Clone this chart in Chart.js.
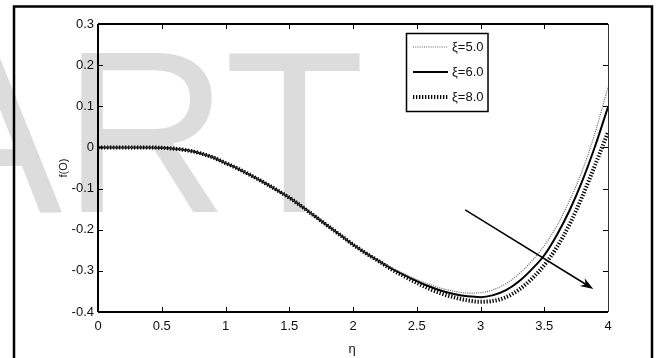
<!DOCTYPE html>
<html>
<head>
<meta charset="utf-8">
<script src="https://cdn.jsdelivr.net/npm/chart.js@4.4.1/dist/chart.umd.min.js"></script>
<style>
html,body{margin:0;padding:0;background:#fff;}
#wrap{position:relative;width:660px;height:358px;}
</style>
</head>
<body>
<div id="wrap"><canvas id="fChart" width="660" height="358"></canvas></div>
<script>
// eta grid and f(eta) profiles for three values of xi
const eta=[0,0.1,0.2,0.3,0.4,0.5,0.6,0.7,0.8,0.9,1.0,1.1,1.2,1.3,1.4,1.5,1.6,1.7,1.8,1.9,2.0,
2.1,2.2,2.3,2.4,2.5,2.6,2.7,2.8,2.9,3.0,3.1,3.2,3.3,3.4,3.5,3.6,3.7,3.8,3.9,4.0]
const xi5=[0,0,0,0,0,-0.001,-0.003,-0.007,-0.014,-0.024,-0.038,-0.052,-0.068,-0.085,-0.103,-0.122,-0.144,-0.167,-0.190,-0.213,-0.236,
-0.257,-0.276,-0.292,-0.307,-0.321,-0.333,-0.343,-0.350,-0.354,-0.353,-0.346,-0.331,-0.308,-0.277,-0.239,-0.190,-0.128,-0.055,0.037,0.147]
const xi6=[0,0,0,0,0,-0.001,-0.003,-0.007,-0.014,-0.024,-0.038,-0.052,-0.068,-0.085,-0.103,-0.122,-0.144,-0.167,-0.190,-0.213,-0.236,
-0.257,-0.276,-0.294,-0.310,-0.325,-0.338,-0.349,-0.357,-0.362,-0.364,-0.359,-0.347,-0.326,-0.297,-0.262,-0.212,-0.152,-0.080,0.004,0.098]
const xi8=[0,0,0,0,0,-0.001,-0.003,-0.007,-0.014,-0.024,-0.038,-0.052,-0.068,-0.085,-0.103,-0.122,-0.144,-0.167,-0.190,-0.213,-0.236,
-0.257,-0.276,-0.296,-0.313,-0.329,-0.344,-0.356,-0.365,-0.372,-0.375,-0.373,-0.364,-0.346,-0.320,-0.286,-0.242,-0.186,-0.118,-0.042,0.037]
const seriesLabels=["ξ=5.0","ξ=6.0","ξ=8.0"]
const xTicks=[0,0.5,1,1.5,2,2.5,3,3.5,4]
const yTicks=[-0.4,-0.3,-0.2,-0.1,0,0.1,0.2,0.3]
// trend arrow, in data units
const arrowFrom=[2.88,-0.152]
const arrowTo=[3.885,-0.344]

const FONT="'Liberation Sans Narrow','Liberation Sans',Arial,sans-serif"
const pts=arr=>eta.map((e,i)=>({x:e,y:arr[i]}))

// gray "ART" stamp behind the plot
const stamp={
id:"stamp",
beforeDraw(chart){
const c=chart.ctx
c.save()
c.fillStyle="#fff"
c.fillRect(0,0,chart.width,chart.height)
c.fillStyle="#dcdcdc"
c.font="230px 'Liberation Sans',Arial,sans-serif"
c.textBaseline="alphabetic"
c.fillText("ART",-91,212)
c.restore()
}
}

// box frame, inward ticks, legend, arrow, axis titles, outer border
const frame={
id:"frame",
afterDraw(chart){
const c=chart.ctx
const a=chart.chartArea
const xs=chart.scales.x, ys=chart.scales.y
c.save()
c.strokeStyle="#000"
c.lineWidth=1
c.beginPath()
xTicks.forEach(v=>{
const p=Math.round(xs.getPixelForValue(v))+0.5
c.moveTo(p,a.bottom);c.lineTo(p,a.bottom-5)
c.moveTo(p,a.top);c.lineTo(p,a.top+5)
})
yTicks.forEach(v=>{
const p=Math.round(ys.getPixelForValue(v))+0.5
c.moveTo(a.left,p);c.lineTo(a.left+5,p)
c.moveTo(a.right,p);c.lineTo(a.right-5,p)
})
c.stroke()
c.lineWidth=2
c.beginPath()
c.moveTo(a.left,a.top);c.lineTo(a.right,a.top)
c.moveTo(a.left,a.top);c.lineTo(a.left,a.bottom)
c.moveTo(a.left,a.bottom);c.lineTo(a.right,a.bottom)
c.stroke()
c.lineWidth=1
c.strokeStyle="#333"
c.beginPath()
c.moveTo(a.right+0.5,a.top);c.lineTo(a.right+0.5,a.bottom)
c.stroke()

// legend
const lx=406.5,ly=33.5,lw=81.5,lh=78
c.fillStyle="#fff"
c.fillRect(lx,ly,lw,lh)
c.strokeStyle="#000"
c.lineWidth=1.5
c.strokeRect(lx,ly,lw,lh)
chart.data.datasets.forEach((d,i)=>{
const yy=47+i*25
c.save()
c.strokeStyle=d.borderColor
c.lineWidth=d.borderWidth
c.setLineDash(d.borderDash||[])
c.beginPath();c.moveTo(413,yy);c.lineTo(448,yy);c.stroke()
c.restore()
c.fillStyle="#111"
c.font="13px "+FONT
c.textBaseline="middle"
c.textAlign="left"
c.fillText(d.label,452,yy)
})

// arrow
const x1=xs.getPixelForValue(arrowFrom[0]),y1=ys.getPixelForValue(arrowFrom[1])
const x2=xs.getPixelForValue(arrowTo[0]),y2=ys.getPixelForValue(arrowTo[1])
const ang=Math.atan2(y2-y1,x2-x1)
c.strokeStyle="#000"
c.lineWidth=1.5
c.beginPath();c.moveTo(x1,y1);c.lineTo(x2-8*Math.cos(ang),y2-8*Math.sin(ang));c.stroke()
c.fillStyle="#000"
c.beginPath()
c.moveTo(x2,y2)
c.lineTo(x2-13*Math.cos(ang)+4.5*Math.sin(ang),y2-13*Math.sin(ang)-4.5*Math.cos(ang))
c.lineTo(x2-9*Math.cos(ang),y2-9*Math.sin(ang))
c.lineTo(x2-13*Math.cos(ang)-4.5*Math.sin(ang),y2-13*Math.sin(ang)+4.5*Math.cos(ang))
c.closePath();c.fill()

// axis titles
c.fillStyle="#111"
c.font="13px "+FONT
c.textAlign="center"
c.textBaseline="middle"
c.fillText("η",352,349)
c.save()
c.translate(64,168)
c.rotate(-Math.PI/2)
c.font="11px "+FONT
c.fillText("f(O)",0,0)
c.restore()

// outer border, bottom edge runs off the canvas
c.strokeStyle="#000"
c.lineWidth=2.5
c.strokeRect(14,6.5,638,360)
c.restore()
}
}

new Chart(document.getElementById("fChart"),{
type:"line",
data:{
datasets:[
{label:seriesLabels[0],data:pts(xi5),borderColor:"#666",borderWidth:1.2,borderDash:[1,1.2]},
{label:seriesLabels[1],data:pts(xi6),borderColor:"#000",borderWidth:2},
{label:seriesLabels[2],data:pts(xi8),borderColor:"#000",borderWidth:4,borderDash:[1.3,1.7]}
]
},
options:{
responsive:false,
animation:false,
events:[],
layout:{padding:{left:0,right:52,top:24,bottom:0}},
elements:{point:{radius:0},line:{cubicInterpolationMode:"monotone",fill:false}},
plugins:{legend:{display:false},tooltip:{enabled:false}},
scales:{
x:{
type:"linear",min:0,max:4,
afterFit:s=>{s.height=46},
afterBuildTicks:s=>{s.ticks=xTicks.map(v=>({value:v}))},
grid:{display:false,drawTicks:false},
border:{display:false},
ticks:{padding:7,color:"#111",font:{family:FONT,size:13},maxRotation:0,
callback:v=>String(+v.toFixed(1))}
},
y:{
type:"linear",min:-0.4,max:0.3,
afterFit:s=>{s.width=98},
afterBuildTicks:s=>{s.ticks=yTicks.map(v=>({value:v}))},
grid:{display:false,drawTicks:false},
border:{display:false},
ticks:{padding:4,color:"#111",font:{family:FONT,size:13},
callback:v=>String(+v.toFixed(1))}
}
}
},
plugins:[stamp,frame]
})
</script>
</body>
</html>
